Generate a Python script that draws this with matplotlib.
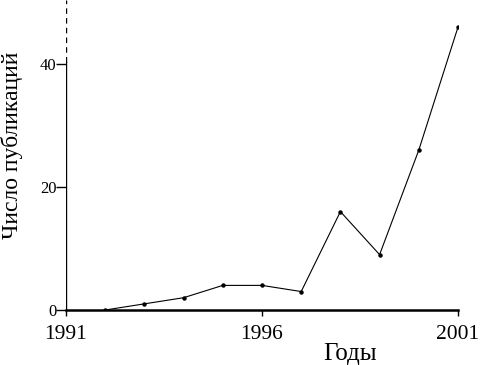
import matplotlib
matplotlib.use("Agg")
import matplotlib.pyplot as plt

# publications per year
years = [1992, 1993, 1994, 1995, 1996, 1997, 1998, 1999, 2000, 2001]
counts = [0, 1, 2, 4, 4, 3, 16, 9, 26, 46]
xticks = [1991, 1996, 2001]
yticks = [0, 20, 40]

plt.rcParams['font.family'] = ['Liberation Serif', 'DejaVu Serif']

fig = plt.figure(figsize=(5.01, 3.65), dpi=100)
ax = fig.add_axes([66 / 501, 55 / 365, 392 / 501, 310 / 365])

ax.plot(years, counts, color="black", lw=0.8, marker="o", ms=2.2)

ax.set_xlim(1991, 2001)
ax.set_ylim(0, 50.4)

for s in ["top", "right", "left"]:
    ax.spines[s].set_visible(False)
ax.spines["bottom"].set_linewidth(1.8)

# left axis: solid below, dashed near the top like the scan
ax.axvline(1991, ymin=0, ymax=0.8, color="black", lw=1.0)
ax.axvline(1991, ymin=0.8, ymax=1.0, color="black", lw=1.0, ls=(0, (4, 3)))

ax.set_xticks(xticks)
ax.set_xticklabels([str(t) for t in xticks], fontsize=15.5)
ax.set_yticks(yticks)
ax.set_yticklabels([str(t) for t in yticks], fontsize=12)
ax.tick_params(axis="x", direction="out", length=4, width=1, pad=7)
ax.tick_params(axis="y", direction="out", length=7, width=1, pad=0)

ax.set_xlabel("Годы", fontsize=18, labelpad=0)
ax.xaxis.set_label_coords(0.725, -0.105)
ax.set_ylabel("Число публикаций", fontsize=17)
ax.yaxis.set_label_coords(-0.11, 0.53)

fig.savefig("out.png", dpi=100)
